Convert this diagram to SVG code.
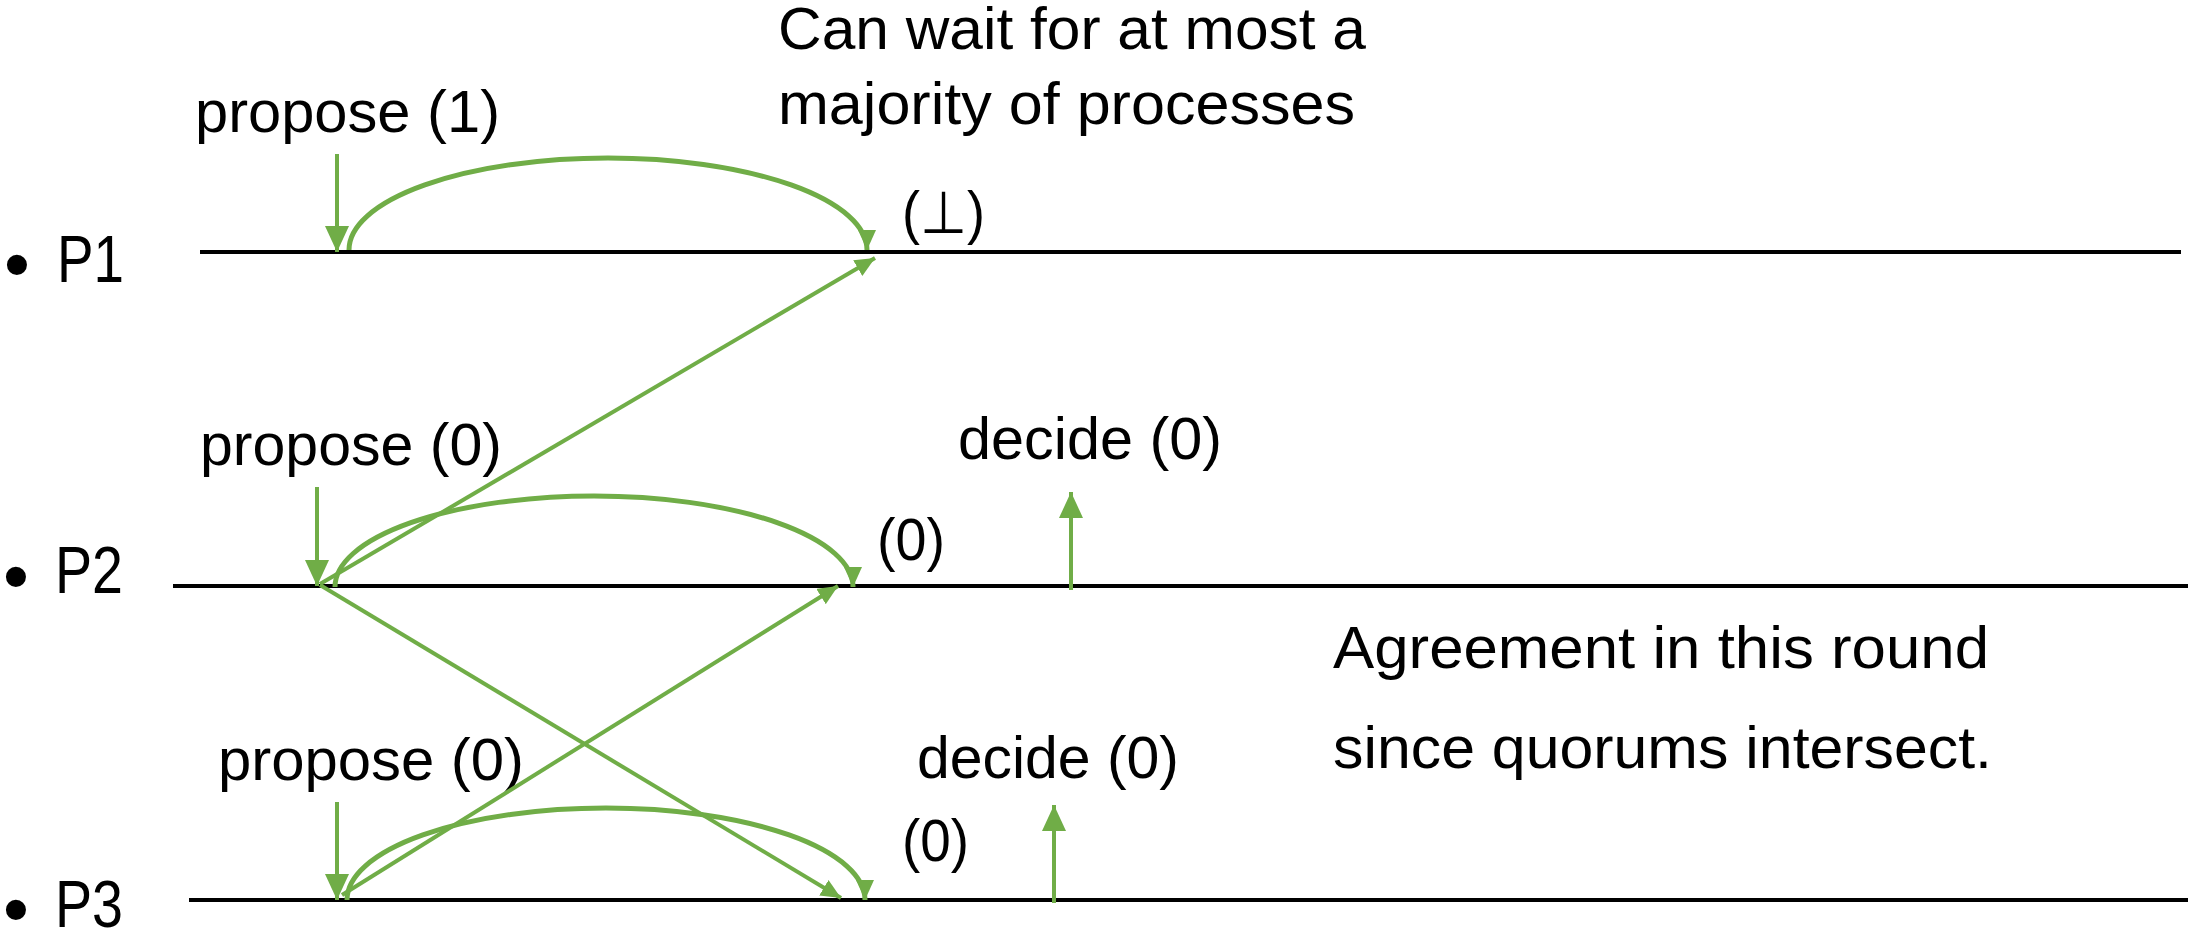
<svg xmlns="http://www.w3.org/2000/svg" width="2188" height="937" viewBox="0 0 2188 937">
<style>
text{font-family:"Liberation Sans",Arial,"DejaVu Sans",sans-serif;fill:#000;}
.lbl{font-size:59px;}
.proc{font-size:67px;}
.bul{font-size:74px;}
.tl{stroke:#000;stroke-width:4;fill:none;}
.ev{stroke:#70AD47;stroke-width:4;fill:none;}
.msg{stroke:#70AD47;stroke-width:4;fill:none;}
.arc{stroke:#70AD47;stroke-width:5;fill:none;}
</style>
<defs>
<marker id="big" markerUnits="userSpaceOnUse" markerWidth="26" markerHeight="24" viewBox="0 0 26 24" refX="26" refY="12" orient="auto"><path d="M0,0 L26,12 L0,24 z" fill="#70AD47"/></marker>
<marker id="small" markerUnits="userSpaceOnUse" markerWidth="20" markerHeight="18" viewBox="0 0 20 18" refX="20" refY="9" orient="auto"><path d="M0,0 L20,9 L0,18 z" fill="#70AD47"/></marker>
</defs>

<g id="P1">
<text class="bul" x="4" y="290">•</text>
<text class="proc" x="57" y="282" textLength="67" lengthAdjust="spacingAndGlyphs">P1</text>
<line class="tl" x1="200" y1="252" x2="2181" y2="252"/>
</g>
<g id="P2">
<text class="bul" x="3" y="602">•</text>
<text class="proc" x="55" y="593" textLength="68" lengthAdjust="spacingAndGlyphs">P2</text>
<line class="tl" x1="173" y1="586" x2="2188" y2="586"/>
</g>
<g id="P3">
<text class="proc" y="927"><tspan class="bul" x="3" dy="8">•</tspan><tspan x="55" dy="-8" textLength="68" lengthAdjust="spacingAndGlyphs">P3</tspan></text>
<line class="tl" x1="189" y1="900" x2="2188" y2="900"/>
</g>

<g id="labels">
<text class="lbl" x="778" y="49" textLength="588" lengthAdjust="spacingAndGlyphs">Can wait for at most a</text>
<text class="lbl" x="778" y="124" textLength="577" lengthAdjust="spacingAndGlyphs">majority of processes</text>
<text class="lbl" x="195" y="132" textLength="305" lengthAdjust="spacingAndGlyphs">propose (1)</text>
<text class="lbl" x="902" y="233" textLength="83" lengthAdjust="spacingAndGlyphs">(⊥)</text>
<text class="lbl" x="200" y="465" textLength="302" lengthAdjust="spacingAndGlyphs">propose (0)</text>
<text class="lbl" x="877" y="560" textLength="68" lengthAdjust="spacingAndGlyphs">(0)</text>
<text class="lbl" x="958" y="459" textLength="264" lengthAdjust="spacingAndGlyphs">decide (0)</text>
<text class="lbl" x="218" y="780" textLength="306" lengthAdjust="spacingAndGlyphs">propose (0)</text>
<text class="lbl" x="902" y="861" textLength="67" lengthAdjust="spacingAndGlyphs">(0)</text>
<text class="lbl" x="917" y="778" textLength="262" lengthAdjust="spacingAndGlyphs">decide (0)</text>
<text class="lbl" x="1333" y="668" textLength="656" lengthAdjust="spacingAndGlyphs">Agreement in this round</text>
<text class="lbl" x="1333" y="768" textLength="659" lengthAdjust="spacingAndGlyphs">since quorums intersect.</text>
</g>

<g id="connectors">
<line class="ev" x1="337" y1="154" x2="337" y2="252" marker-end="url(#big)"/>
<line class="ev" x1="317" y1="487" x2="317" y2="586" marker-end="url(#big)"/>
<line class="ev" x1="337" y1="802" x2="337" y2="900" marker-end="url(#big)"/>
<line class="ev" x1="1071" y1="590" x2="1071" y2="492" marker-end="url(#big)"/>
<line class="ev" x1="1054" y1="903" x2="1054" y2="805" marker-end="url(#big)"/>
<path class="arc" d="M349,250 A259,92 0 0 1 867,250" marker-end="url(#small)"/>
<path class="arc" d="M335,587 A259,91 0 0 1 853,587" marker-end="url(#small)"/>
<path class="arc" d="M347,900 A259,92 0 0 1 865,900" marker-end="url(#small)"/>
<line class="msg" x1="320" y1="584" x2="875" y2="258" marker-end="url(#small)"/>
<line class="msg" x1="320" y1="585" x2="841" y2="898" marker-end="url(#small)"/>
<line class="msg" x1="342" y1="895" x2="838" y2="586" marker-end="url(#small)"/>
</g>
</svg>
